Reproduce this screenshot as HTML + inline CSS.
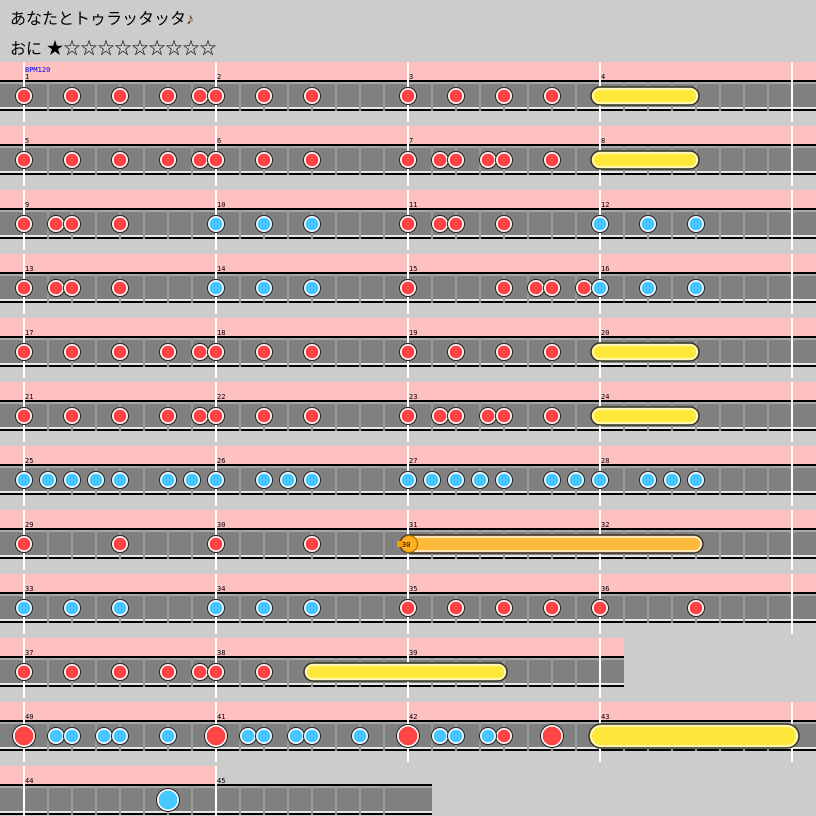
<!DOCTYPE html>
<html><head><meta charset="utf-8"><style>
body{margin:0;background:#cccccc;width:816px;height:816px;overflow:hidden}
svg{display:block}
.t{font-family:"Liberation Sans","Noto Sans CJK JP",sans-serif;fill:#000}
.m{font-family:"DejaVu Sans Mono","Liberation Mono",monospace;font-size:7px;fill:#000}
</style></head><body>
<svg id="s" width="816" height="816" xmlns="http://www.w3.org/2000/svg">
<rect width="816" height="816" fill="#cccccc"/>
<g id="g"></g>
<text class="t" x="10" y="24" font-size="16">あなたとトゥラッタッタ<tspan fill="#6a3a10">♪</tspan></text>
<text class="t" x="10" y="54" font-size="16">おに <tspan font-size="17">★☆☆☆☆☆☆☆☆☆</tspan></text>
<text class="m" x="25" y="72" style="fill:#0000ee">BPM120</text>
<g id="labels">
<text class="m" x="25" y="79">1</text><text class="m" x="217" y="79">2</text><text class="m" x="409" y="79">3</text><text class="m" x="601" y="79">4</text>
<text class="m" x="25" y="143">5</text><text class="m" x="217" y="143">6</text><text class="m" x="409" y="143">7</text><text class="m" x="601" y="143">8</text>
<text class="m" x="25" y="207">9</text><text class="m" x="217" y="207">10</text><text class="m" x="409" y="207">11</text><text class="m" x="601" y="207">12</text>
<text class="m" x="25" y="271">13</text><text class="m" x="217" y="271">14</text><text class="m" x="409" y="271">15</text><text class="m" x="601" y="271">16</text>
<text class="m" x="25" y="335">17</text><text class="m" x="217" y="335">18</text><text class="m" x="409" y="335">19</text><text class="m" x="601" y="335">20</text>
<text class="m" x="25" y="399">21</text><text class="m" x="217" y="399">22</text><text class="m" x="409" y="399">23</text><text class="m" x="601" y="399">24</text>
<text class="m" x="25" y="463">25</text><text class="m" x="217" y="463">26</text><text class="m" x="409" y="463">27</text><text class="m" x="601" y="463">28</text>
<text class="m" x="25" y="527">29</text><text class="m" x="217" y="527">30</text><text class="m" x="409" y="527">31</text><text class="m" x="601" y="527">32</text>
<text class="m" x="25" y="591">33</text><text class="m" x="217" y="591">34</text><text class="m" x="409" y="591">35</text><text class="m" x="601" y="591">36</text>
<text class="m" x="25" y="655">37</text><text class="m" x="217" y="655">38</text><text class="m" x="409" y="655">39</text>
<text class="m" x="25" y="719">40</text><text class="m" x="217" y="719">41</text><text class="m" x="409" y="719">42</text><text class="m" x="601" y="719">43</text>
<text class="m" x="25" y="783">44</text><text class="m" x="217" y="783">45</text>
</g>
<g id="top"></g>
</svg>
<script>
var NS="http://www.w3.org/2000/svg",g=document.getElementById("g"),top_=document.getElementById("top");
function el(p,n,a){var e=document.createElementNS(NS,n);for(var k in a)e.setAttribute(k,a[k]);p.appendChild(e);return e;}
var R="#ff4444",B="#44c8ff";
var rows=[
{w:816,p:816,r:[24,72,120,168,200,216,264,312,408,456,504,552],y:[[591,699]]},
{w:816,p:816,r:[24,72,120,168,200,216,264,312,408,440,456,488,504,552],y:[[591,699]]},
{w:816,p:816,r:[24,56,72,120,408,440,456,504],b:[216,264,312,600,648,696]},
{w:816,p:816,r:[24,56,72,120,408,504,536,552,584],b:[216,264,312,600,648,696]},
{w:816,p:816,r:[24,72,120,168,200,216,264,312,408,456,504,552],y:[[591,699]]},
{w:816,p:816,r:[24,72,120,168,200,216,264,312,408,440,456,488,504,552],y:[[591,699]]},
{w:816,p:816,b:[24,48,72,96,120,168,192,216,264,288,312,408,432,456,480,504,552,576,600,648,672,696]},
{w:816,p:816,r:[24,120,216,312],o:[400,703]},
{w:816,p:816,b:[24,72,120,216,264,312],r:[408,456,504,552,600,696]},
{w:624,p:624,r:[24,72,120,168,200,216,264],y:[[304,507]]},
{w:816,p:816,R:[24,216,408,552],b:[56,72,104,120,168,248,264,296,312,360,440,456,488],r:[504],Y:[[589,799]]},
{w:432,p:216,B:[168]}
];
rows.forEach(function(rw,i){
 var t=62+64*i,cy=t+34;
 el(g,"rect",{x:0,y:t,width:rw.p,height:18,fill:"#ffc0c0"});
 el(g,"rect",{x:0,y:t+18,width:rw.w,height:2,fill:"#000"});
 el(g,"rect",{x:0,y:t+20,width:rw.w,height:2,fill:"#a8a8a8"});
 el(g,"rect",{x:0,y:t+22,width:rw.w,height:24,fill:"#808080"});
 el(g,"rect",{x:0,y:t+45,width:rw.w,height:2,fill:"#e8e8e8"});
 el(g,"rect",{x:0,y:t+47,width:rw.w,height:2,fill:"#000"});
 for(var x=24;x<rw.w;x+=24){ if((x-24)%192) el(g,"rect",{x:x-1,y:t+20,width:2,height:29,fill:"#9a9a9a"}); }
 for(var x=24;x<=rw.p;x+=192){ el(g,"rect",{x:x-1,y:t,width:2,height:60,fill:"#fff"}); }
 function bar(a,c,h){el(top_,"rect",{x:a[0],y:cy-h/2,width:a[1]-a[0],height:h,rx:h/2,fill:c,stroke:"#333",'stroke-width':1.5});
   el(top_,"rect",{x:a[0]+2,y:cy-h/2+2,width:a[1]-a[0]-4,height:h-4,rx:h/2-2,fill:"none",stroke:"#fff",'stroke-width':1.2});}
 (rw.y||[]).forEach(function(a){bar(a,"#ffe83c",18);});
 (rw.Y||[]).forEach(function(a){bar(a,"#ffe83c",24);});
 if(rw.o){bar(rw.o,"#ffb93a",18);
   el(top_,"circle",{cx:409,cy:cy,r:8.5,fill:"#ffb020",stroke:"#a06000",'stroke-width':1});
   el(top_,"polygon",{points:"397,"+(cy-3)+" 404,"+(cy-3)+" 404,"+(cy+3)+" 397,"+(cy+3),fill:"#ff9a00"});
   var tx=el(top_,"text",{x:402,y:cy+3,'class':'m'});tx.textContent="30";}
 function note(x,c,big){var r=big?12:9;
   el(top_,"circle",{cx:x,cy:cy,r:r,fill:"#222"});
   el(top_,"circle",{cx:x,cy:cy,r:r-1,fill:"#fff"});
   el(top_,"circle",{cx:x,cy:cy,r:r-2.6,fill:c});}
 (rw.r||[]).forEach(function(x){note(x,R,0);});
 (rw.b||[]).forEach(function(x){note(x,B,0);});
 (rw.R||[]).forEach(function(x){note(x,R,1);});
 (rw.B||[]).forEach(function(x){note(x,B,1);});
});
</script>
</body></html>
